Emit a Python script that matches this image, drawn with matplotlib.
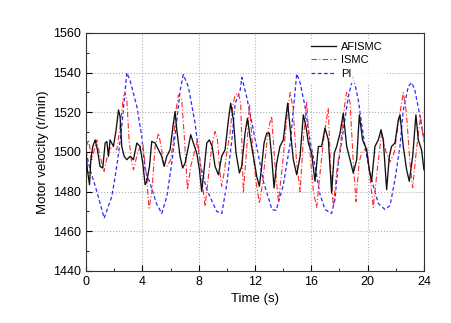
import matplotlib
matplotlib.use("Agg")
import matplotlib.pyplot as plt
from matplotlib.ticker import MultipleLocator

plt.rcParams['font.family'] = ['Liberation Sans', 'DejaVu Sans']

# AFISMC speed response (r/min)
t_afismc = [0, 0.09, 0.24, 0.33, 0.47, 0.64, 0.80, 0.99, 1.18, 1.35,
            1.47, 1.59, 1.70, 1.94, 2.13, 2.30, 2.41, 2.53, 2.70, 2.89,
            3.12, 3.36, 3.60, 3.83, 4.02, 4.19, 4.31, 4.50, 4.66, 4.90,
            5.14, 5.37, 5.54, 5.73, 5.96, 6.20, 6.32, 6.44, 6.67, 6.86,
            7.03, 7.27, 7.43, 7.62, 7.86, 8.05, 8.21, 8.38, 8.57, 8.76,
            8.95, 9.16, 9.40, 9.63, 9.87, 10.11, 10.27, 10.46, 10.65, 10.89,
            11.05, 11.29, 11.46, 11.64, 11.88, 12.12, 12.31, 12.47, 12.64, 12.83,
            13.02, 13.18, 13.35, 13.54, 13.77, 14.01, 14.20, 14.32, 14.48, 14.72,
            14.96, 15.20, 15.43, 15.62, 15.79, 16.02, 16.26, 16.50, 16.73, 16.97,
            17.21, 17.44, 17.63, 17.80, 18.04, 18.27, 18.51, 18.75, 18.98, 19.22,
            19.41, 19.64, 19.93, 20.12, 20.28, 20.52, 20.76, 20.95, 21.11, 21.35,
            21.54, 21.70, 21.94, 22.18, 22.30, 22.53, 22.77, 22.96, 23.20, 23.43,
            23.60, 23.83, 24.0]
v_afismc = [1499.4, 1491.0, 1483.5, 1496.1, 1502.8, 1506.1, 1501.1, 1492.7, 1491.9, 1504.5,
            1505.3, 1497.8, 1506.1, 1502.8, 1511.2, 1521.2, 1517.9, 1502.8, 1497.8, 1496.1,
            1497.8, 1496.1, 1504.5, 1502.8, 1494.4, 1483.5, 1485.2, 1492.7, 1505.3, 1504.5,
            1501.1, 1497.8, 1492.7, 1497.8, 1501.1, 1514.5, 1520.4, 1511.2, 1497.8, 1491.9,
            1494.4, 1502.8, 1508.7, 1504.5, 1499.4, 1491.0, 1480.1, 1491.0, 1504.5, 1506.1,
            1502.8, 1492.7, 1488.5, 1497.8, 1501.1, 1516.2, 1524.6, 1516.2, 1499.4, 1489.4,
            1492.7, 1509.5, 1517.0, 1507.8, 1497.8, 1487.7, 1482.7, 1492.7, 1504.5, 1509.5,
            1509.5, 1497.8, 1481.8, 1494.4, 1502.8, 1506.1, 1517.9, 1524.6, 1512.9, 1496.1,
            1488.5, 1497.8, 1518.7, 1512.9, 1504.5, 1499.4, 1485.2, 1502.8, 1502.8, 1512.0,
            1506.1, 1479.3, 1499.4, 1502.8, 1509.5, 1519.6, 1502.8, 1496.1, 1489.4, 1496.1,
            1518.7, 1506.1, 1501.1, 1491.0, 1485.2, 1502.8, 1506.1, 1511.2, 1506.1, 1481.0,
            1497.8, 1502.8, 1504.5, 1516.2, 1518.7, 1502.8, 1491.0, 1485.2, 1497.8, 1518.7,
            1506.1, 1501.1, 1491.0]

# ISMC speed response
t_ismc = [0.00, 0.17, 0.40, 0.76, 0.99, 1.28, 1.59, 1.94, 2.18, 2.41,
          2.65, 2.77, 2.89, 3.05, 3.24, 3.36, 3.60, 3.83, 4.02, 4.26,
          4.47, 4.66, 4.90, 5.14, 5.33, 5.49, 5.73, 6.01, 6.20, 6.39,
          6.56, 6.79, 6.96, 7.20, 7.43, 7.74, 7.91, 8.09, 8.28, 8.45,
          8.69, 8.92, 9.16, 9.33, 9.51, 9.63, 9.80, 9.99, 10.22, 10.41,
          10.58, 10.82, 10.98, 11.17, 11.41, 11.60, 11.80, 12.05, 12.31, 12.55,
          12.83, 13.00, 13.18, 13.40, 13.66, 13.90, 14.10, 14.30, 14.49, 14.70,
          14.95, 15.20, 15.45, 15.67, 15.90, 16.15, 16.38, 16.60, 16.85, 17.05,
          17.20, 17.35, 17.56, 17.80, 18.05, 18.30, 18.50, 18.75, 18.98, 19.17,
          19.40, 19.60, 19.93, 20.15, 20.40, 20.70, 21.00, 21.30, 21.60, 21.90,
          22.20, 22.53, 22.75, 23.00, 23.20, 23.45, 23.76, 24.00]
v_ismc = [1502.8, 1506.1, 1496.1, 1506.1, 1497.8, 1490.2, 1501.1, 1502.8, 1501.1, 1512.9,
          1528.0, 1529.6, 1526.3, 1506.1, 1494.4, 1491.0, 1497.8, 1502.8, 1504.5, 1489.4,
          1471.7, 1479.3, 1502.8, 1509.5, 1502.8, 1494.4, 1492.7, 1496.1, 1506.1, 1521.2,
          1528.8, 1526.3, 1509.5, 1481.0, 1492.7, 1501.1, 1506.1, 1496.1, 1482.7, 1472.6,
          1487.7, 1502.8, 1510.3, 1506.1, 1489.4, 1482.7, 1489.4, 1499.4, 1509.5, 1522.9,
          1528.8, 1529.6, 1524.6, 1479.3, 1502.0, 1524.0, 1505.0, 1486.0, 1474.0, 1485.0,
          1504.0, 1513.0, 1518.0, 1495.0, 1475.0, 1490.0, 1505.0, 1520.0, 1530.0, 1522.0,
          1495.0, 1480.0, 1508.0, 1525.0, 1500.0, 1480.0, 1472.0, 1488.0, 1505.0, 1515.0,
          1522.0, 1495.0, 1472.0, 1490.0, 1502.0, 1520.0, 1530.0, 1525.0, 1495.0, 1475.0,
          1495.0, 1500.0, 1502.0, 1488.0, 1472.0, 1492.0, 1510.0, 1500.0, 1495.0, 1500.0,
          1515.0, 1530.0, 1520.0, 1495.0, 1482.0, 1500.0, 1518.0, 1505.0]

# PI speed response
t_pi = [0.00, 0.28, 0.64, 1.00, 1.28, 1.82, 2.06, 2.30, 2.53, 2.77,
        2.89, 3.12, 3.60, 3.95, 4.19, 4.55, 5.00, 5.37, 5.73, 6.08,
        6.44, 6.68, 6.90, 7.26, 7.74, 8.10, 8.57, 9.28, 9.64, 10.00,
        10.35, 10.59, 10.94, 11.06, 11.40, 11.88, 12.36, 12.60, 13.20, 13.50,
        14.00, 14.50, 14.72, 14.96, 15.20, 15.55, 15.90, 16.26, 16.60, 16.97,
        17.44, 17.68, 17.90, 18.27, 18.63, 18.98, 19.34, 19.70, 19.93, 20.28,
        20.76, 21.23, 21.59, 21.94, 22.30, 22.53, 22.89, 23.12, 23.36, 23.72,
        24.00]
v_pi = [1500.0, 1491.0, 1483.0, 1474.0, 1466.6, 1477.5, 1487.5, 1499.0, 1512.7, 1531.0,
        1540.0, 1536.0, 1523.0, 1508.0, 1491.0, 1484.0, 1474.0, 1469.0, 1477.5, 1494.0,
        1516.0, 1531.0, 1539.0, 1533.0, 1514.5, 1494.0, 1481.0, 1470.0, 1469.0, 1484.0,
        1506.0, 1524.5, 1531.0, 1537.6, 1528.0, 1511.0, 1494.0, 1485.0, 1471.0, 1470.5,
        1483.0, 1504.5, 1521.0, 1539.4, 1535.0, 1523.0, 1506.0, 1493.0, 1479.0, 1471.0,
        1469.0, 1476.0, 1493.0, 1511.0, 1528.0, 1538.0, 1526.0, 1508.0, 1498.0, 1486.0,
        1474.0, 1471.0, 1473.0, 1486.0, 1503.0, 1521.0, 1533.0, 1535.0, 1531.0, 1518.0,
        1506.0]

fig = plt.figure(figsize=(4.51, 3.23), dpi=100)
ax = fig.add_axes([0.191, 0.161, 0.749, 0.737])

ax.plot(t_afismc, v_afismc, color='#111111', lw=0.95, label='AFISMC', zorder=3)
ax.plot(t_ismc, v_ismc, color='#ff2a2a', lw=0.8, ls=(0, (5, 2, 1, 2)), label='ISMC', zorder=2)
ax.plot(t_pi, v_pi, color='#2a2aff', lw=0.9, ls=(0, (3, 2)), label='PI', zorder=1)

ax.set_xlim(0, 24)
ax.set_ylim(1440, 1560)
ax.xaxis.set_major_locator(MultipleLocator(4))
ax.xaxis.set_minor_locator(MultipleLocator(2))
ax.yaxis.set_major_locator(MultipleLocator(20))
ax.yaxis.set_minor_locator(MultipleLocator(10))
ax.tick_params(which='both', direction='in', top=False, right=False, labelsize=9)
ax.tick_params(which='major', length=4)
ax.tick_params(which='minor', length=2.5)
ax.grid(True, which='major', ls=':', color='#b0b0b0', lw=0.8)
for s in ax.spines.values():
    s.set_color('#333333')

ax.set_xlabel('Time (s)', fontsize=9.5, labelpad=4)
ax.set_ylabel('Motor velocity (r/min)', fontsize=9.5, labelpad=3)

leg = ax.legend(loc='upper left', bbox_to_anchor=(0.64, 1.0), frameon=True,
                fontsize=8, handlelength=2.2, handletextpad=0.5,
                labelspacing=0.3, borderpad=0.3, fancybox=False)
leg.get_frame().set_edgecolor('white')
leg.get_frame().set_facecolor('white')

fig.savefig('out.png', dpi=100)
